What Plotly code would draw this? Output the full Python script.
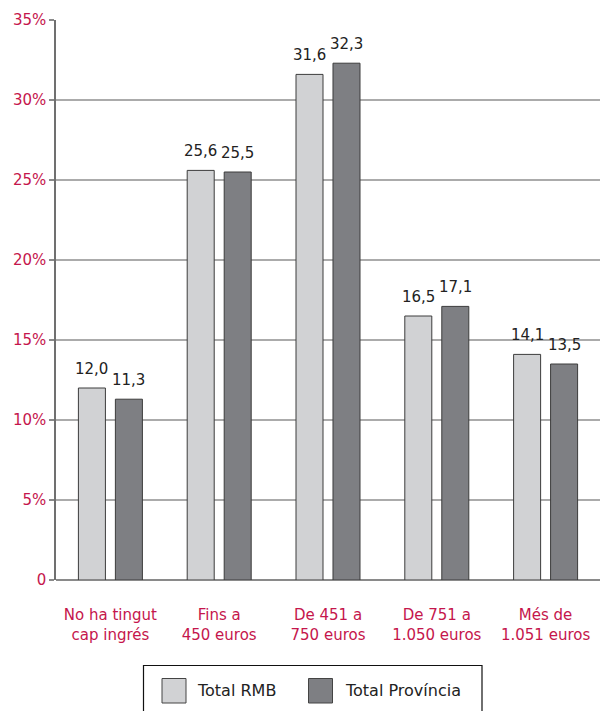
import plotly.graph_objects as go

categories = ["No ha tingut<br>cap ingrés", "Fins a<br>450 euros", "De 451 a<br>750 euros",
              "De 751 a<br>1.050 euros", "Més de<br>1.051 euros"]
series_names = ["Total RMB", "Total Província"]
total_rmb = [12.0, 25.6, 31.6, 16.5, 14.1]
total_provincia = [11.3, 25.5, 32.3, 17.1, 13.5]
tick_vals = [0, 5, 10, 15, 20, 25, 30, 35]
tick_text = ["0", "5%", "10%", "15%", "20%", "25%", "30%", "35%"]

W, H = 600, 711
ML, MR, MT, MB = 56, 0, 20, 131
PW = W - ML - MR
PH = H - MT - MB

CRIMSON = "#c5164c"
LIGHT = "#d1d2d4"
DARK = "#7e7f83"
EDGE = "#3c3c3c"
TXT = "#222222"
FONT = "DejaVu Sans, Liberation Sans, Arial, sans-serif"

def px(x):
    return (x - ML) / PW

def py(y):
    return (H - MB - y) / PH

fig = go.Figure()
series = [total_rmb, total_provincia]
colors = [LIGHT, DARK]
for name, vals, col in zip(series_names, series, colors):
    fig.add_trace(go.Bar(
        x=categories, y=vals, name=name,
        marker=dict(color=col, line=dict(color=EDGE, width=1)),
        showlegend=False, hoverinfo="skip",
    ))

bargap = 0.32
slot = (1 - bargap) / 2  # in category units
for i, vals in enumerate(series):
    off = (i - 0.5) * slot
    for j, v in enumerate(vals):
        fig.add_annotation(
            x=j + off, y=v, xref="x", yref="y",
            text=f"{v:.1f}".replace(".", ","),
            showarrow=False, yanchor="bottom", yshift=8,
            font=dict(family=FONT, size=15, color=TXT),
        )

# Legend (drawn manually)
shapes = [
    dict(type="rect", xref="paper", yref="paper",
         x0=px(143.5), x1=px(482), y0=py(665.5), y1=py(720),
         line=dict(color="#111111", width=1.2), fillcolor="rgba(0,0,0,0)", layer="above"),
]
legend_items = [(162, 195), (308.5, 342.5)]
for (sx, tx), name, col in zip(legend_items, series_names, colors):
    shapes.append(dict(type="rect", xref="paper", yref="paper",
                       x0=px(sx), x1=px(sx + 24), y0=py(678.5), y1=py(703),
                       line=dict(color="#444444", width=1), fillcolor=col, layer="above"))
    fig.add_annotation(x=px(tx), y=py(690), xref="paper", yref="paper",
                       text=name, showarrow=False, xanchor="left", yanchor="middle",
                       font=dict(family=FONT, size=16, color=TXT))

fig.update_layout(
    width=W, height=H,
    margin=dict(l=ML, r=MR, t=MT, b=MB, pad=0),
    paper_bgcolor="white", plot_bgcolor="white",
    barmode="group", bargap=bargap, bargroupgap=0.27,
    shapes=shapes,
    font=dict(family=FONT, size=15, color=TXT),
    xaxis=dict(
        type="category", range=[-0.5, 4.5],
        showline=False, showgrid=False, ticks="",
        tickfont=dict(family=FONT, size=15, color=CRIMSON),
        ticklabelstandoff=24,
    ),
    yaxis=dict(
        range=[0, 35], tickvals=tick_vals, ticktext=tick_text,
        showgrid=True, gridcolor="#ababab", gridwidth=1.5,
        zeroline=True, zerolinecolor="#8a8a8a", zerolinewidth=1.5,
        showline=True, linecolor="#707070", linewidth=1.5,
        ticks="outside", ticklen=5, tickcolor="#8a8a8a", tickwidth=1.5,
        tickfont=dict(family=FONT, size=15, color=CRIMSON),
        ticklabelstandoff=0,
    ),
)

fig.write_html("out.html", config={"displayModeBar": False},
               post_script="document.body.style.margin='0';")
with open("out.html", "r", encoding="utf-8") as f:
    html = f.read()
html = html.replace("<head>", "<head><style>html,body{margin:0;padding:0;}</style>", 1)
with open("out.html", "w", encoding="utf-8") as f:
    f.write(html)
